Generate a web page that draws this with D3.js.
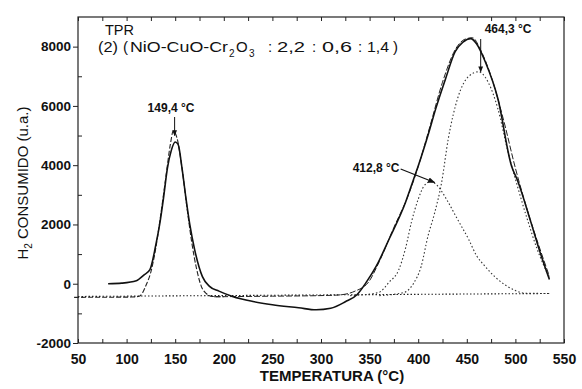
<!DOCTYPE html>
<html>
<head>
<meta charset="utf-8">
<script src="https://cdn.jsdelivr.net/npm/d3@7"></script>
<style>
  body { margin: 0; background: #fff; }
  text { font-family: "Liberation Sans", Arial, sans-serif; fill: #111; }
</style>
</head>
<body>
<div id="chart"></div>
<script>
// data
var expTemp = [81, 95, 110, 118, 124, 130, 134, 138, 142, 146, 150, 153, 157, 161, 165, 170, 178, 185, 195, 209, 230, 250, 277, 295, 310, 325, 337, 347, 357, 370, 387, 395, 400, 410, 418, 428, 438, 446, 454, 460, 469, 482, 496, 502, 516, 525, 535];
var expH2 = [0, 20, 100, 300, 475, 1300, 2000, 2900, 3900, 4500, 4780, 4700, 3900, 2900, 2000, 1150, 240, -80, -250, -430, -600, -710, -810, -880, -830, -610, -370, 70, 600, 1500, 2750, 3500, 3970, 5000, 5900, 6900, 7830, 8150, 8270, 8100, 7490, 6240, 3970, 3500, 2070, 1100, 140];

var p1Temp = [46, 80, 105, 112, 116, 120, 125, 130, 135, 140, 145, 148, 152, 157, 162, 167, 172, 177, 182, 188, 200];
var p1H2 = [-460, -455, -450, -430, -330, -50, 400, 1200, 2300, 3500, 4700, 5150, 4900, 3900, 2600, 1400, 500, -100, -330, -430, -440];

var p2Temp = [330, 359, 370, 380, 387, 393, 400, 406, 413, 420, 430, 440, 452, 460, 469, 480, 490, 500, 510, 535];
var p2H2 = [-400, -300, 50, 470, 1200, 2070, 2850, 3300, 3450, 3300, 2800, 2200, 1490, 950, 580, 200, -50, -230, -320, -330];

var p3Temp = [360, 385, 395, 403, 410, 417, 424, 431, 441, 452, 462, 472, 482, 492, 502, 512, 522, 535];
var p3H2 = [-400, -300, 0, 580, 1600, 2400, 3400, 4900, 6300, 7000, 7150, 6800, 5900, 4500, 3300, 2200, 1200, 200];

var sumTemp = [190, 250, 300, 318, 335, 349, 360, 375, 390, 400, 412, 425, 439, 448, 456, 464, 475, 488, 500, 515, 525, 535];
var sumH2 = [-440, -420, -400, -380, -250, 60, 750, 1900, 3000, 3950, 5300, 6800, 7950, 8250, 8300, 7900, 7000, 5500, 3900, 2200, 1200, 250];

var baseTemp = [50, 535];
var baseH2 = [-430, -330];

var xMajor = [50, 100, 150, 200, 250, 300, 350, 400, 450, 500, 550];
var yMajor = [-2000, 0, 2000, 4000, 6000, 8000];

var peakLabels = ["149,4 °C", "412,8 °C", "464,3 °C"];
var peakTemps = [149.4, 412.8, 464.3];

var svgWidth = 582;
var svgHeight = 389;
var margin = { top: 17, right: 18, bottom: 46, left: 78 };
var width = svgWidth - margin.left - margin.right;
var height = svgHeight - margin.top - margin.bottom;

var svg = d3.select("#chart").append("svg")
    .attr("width", svgWidth)
    .attr("height", svgHeight);

svg.append("defs").append("marker")
    .attr("id", "head")
    .attr("viewBox", "0 0 10 10")
    .attr("refX", 9).attr("refY", 5)
    .attr("markerWidth", 6).attr("markerHeight", 6)
    .attr("orient", "auto")
    .append("path")
    .attr("d", "M0,1 L10,5 L0,9 Z")
    .attr("fill", "#111");

var g = svg.append("g")
    .attr("transform", `translate(${margin.left}, ${margin.top})`);

var x = d3.scaleLinear().domain([50, 550]).range([0, width]);
var y = d3.scaleLinear().domain([-2000, 9000]).range([height, 0]);

// frame
g.append("rect")
    .attr("width", width).attr("height", height)
    .attr("fill", "none").attr("stroke", "#222").attr("stroke-width", 1.2);

// axes: bottom/top minor ticks inward, left major outward + minor inward
var xMinor = d3.range(50, 551, 25);
g.append("g")
    .attr("transform", `translate(0, ${height})`)
    .call(d3.axisBottom(x).tickValues(xMinor).tickSize(-4).tickFormat(""))
    .call(a => a.select(".domain").remove());
g.append("g")
    .call(d3.axisTop(x).tickValues(xMinor).tickSize(-4).tickFormat(""))
    .call(a => a.select(".domain").remove());
g.append("g")
    .attr("transform", `translate(0, ${height})`)
    .call(d3.axisBottom(x).tickValues(xMajor).tickSize(0).tickPadding(11).tickFormat(d => String(d)))
    .call(a => a.select(".domain").remove())
    .selectAll("text")
    .style("font-size", "14px").style("font-weight", "bold")
    .style("font-family", "'Liberation Sans', Arial, sans-serif").attr("fill", "#111");

g.append("g")
    .call(d3.axisLeft(y).tickValues(d3.range(-1000, 9000, 2000)).tickSize(-4).tickFormat(""))
    .call(a => a.select(".domain").remove());
g.append("g")
    .call(d3.axisLeft(y).tickValues(yMajor).tickSize(5).tickPadding(2).tickFormat(d => String(d)))
    .call(a => a.select(".domain").remove())
    .selectAll("text")
    .style("font-size", "13.5px").style("font-weight", "bold")
    .style("font-family", "'Liberation Sans', Arial, sans-serif").attr("fill", "#111");
g.selectAll(".tick line").attr("stroke", "#222");

function lineOf(tx, vy) {
    var pts = tx.map((t, i) => [t, vy[i]]);
    return d3.line()
        .x(d => x(d[0]))
        .y(d => y(d[1]))
        .curve(d3.curveMonotoneX)(pts);
}

// baseline
g.append("path").attr("d", lineOf(baseTemp, baseH2))
    .attr("fill", "none").attr("stroke", "#222").attr("stroke-width", 1.1)
    .attr("stroke-dasharray", "1.5,2");

// fitted components
g.append("path").attr("d", lineOf(p2Temp, p2H2))
    .attr("fill", "none").attr("stroke", "#333").attr("stroke-width", 1.1)
    .attr("stroke-dasharray", "1.5,2.2");
g.append("path").attr("d", lineOf(p3Temp, p3H2))
    .attr("fill", "none").attr("stroke", "#333").attr("stroke-width", 1.1)
    .attr("stroke-dasharray", "1.5,2.2");
g.append("path").attr("d", lineOf(p1Temp, p1H2))
    .attr("fill", "none").attr("stroke", "#222").attr("stroke-width", 1.1)
    .attr("stroke-dasharray", "5,2");
g.append("path").attr("d", lineOf(sumTemp, sumH2))
    .attr("fill", "none").attr("stroke", "#222").attr("stroke-width", 1)
    .attr("stroke-dasharray", "6,2");

// experimental curve
g.append("path").attr("d", lineOf(expTemp, expH2))
    .attr("fill", "none").attr("stroke", "#111").attr("stroke-width", 1.6);

// peak labels + arrows
var lblStyle = s => s.style("font-size", "12px").style("font-weight", "bold");
g.append("text").attr("x", x(peakTemps[0]) - 27).attr("y", 95).text(peakLabels[0]).call(lblStyle);
g.append("line")
    .attr("x1", x(peakTemps[0])).attr("y1", 100)
    .attr("x2", x(peakTemps[0])).attr("y2", y(5000))
    .attr("stroke", "#111").attr("stroke-width", 1).attr("marker-end", "url(#head)");

g.append("text").attr("x", x(peakTemps[1]) - 78).attr("y", 155).text(peakLabels[1]).call(lblStyle);
g.append("line")
    .attr("x1", x(peakTemps[1]) - 30).attr("y1", 152)
    .attr("x2", x(peakTemps[1]) + 4).attr("y2", y(3450) + 1)
    .attr("stroke", "#111").attr("stroke-width", 1.2).attr("marker-end", "url(#head)");

g.append("text").attr("x", x(peakTemps[2]) + 4).attr("y", 16).text(peakLabels[2]).call(lblStyle);
g.append("line")
    .attr("x1", x(peakTemps[2])).attr("y1", 22)
    .attr("x2", x(peakTemps[2])).attr("y2", y(7150))
    .attr("stroke", "#111").attr("stroke-width", 1).attr("marker-end", "url(#head)");

// title
g.append("text").attr("x", 27).attr("y", 18).style("font-size", "14.5px").text("TPR");
var t2 = g.append("text").attr("y", 35).style("font-size", "15px");
// [x, text, subscript?, stretched width]
var pieces = [
    [20, "(2)", 0, 20], [45, "(", 0, 0], [52, "NiO-CuO-Cr", 0, 98], [151, "2", 1, 0], [158, "O", 0, 0], [171, "3", 1, 0],
    [190, ":", 0, 0], [199, "2,2", 0, 28], [234, ":", 0, 0], [244, "0,6", 0, 30], [280, ":", 0, 0], [289, "1,4", 0, 22], [315, ")", 0, 0]
];
pieces.forEach(p => {
    var ts = t2.append("tspan").attr("x", p[0]).attr("y", p[2] ? 40 : 35)
        .style("font-size", p[2] ? "10px" : "15px").text(p[1]);
    if (p[3]) ts.attr("textLength", p[3]).attr("lengthAdjust", "spacingAndGlyphs");
});

// axis titles
svg.append("text")
    .attr("x", 332).attr("y", 381)
    .attr("text-anchor", "middle")
    .style("font-size", "15px").style("font-weight", "bold")
    .text("TEMPERATURA (°C)");

var yl = svg.append("text")
    .attr("transform", "translate(28, 183) rotate(-90)")
    .attr("text-anchor", "middle")
    .style("font-size", "15px");
yl.append("tspan").text("H");
yl.append("tspan").attr("dy", 4).style("font-size", "10px").text("2");
yl.append("tspan").attr("dy", -4).text(" CONSUMIDO  (u.a.)");
</script>
</body>
</html>
